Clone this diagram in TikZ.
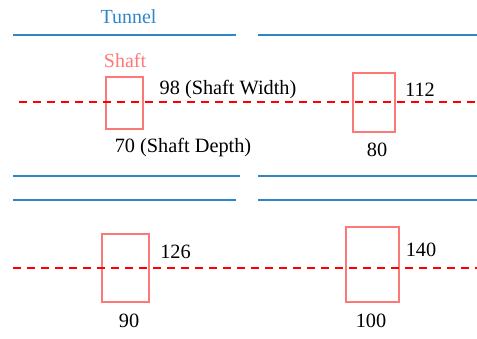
\documentclass[tikz,border=0pt]{standalone}
\usepackage{fontspec}
\setmainfont{Liberation Serif}
\definecolor{tunnelblue}{RGB}{46,134,200}
\definecolor{shaftpink}{RGB}{255,120,120}
\definecolor{axisred}{RGB}{255,0,0}
\tikzset{
  tunnelline/.style={draw=tunnelblue, line width=1.7pt},
  axisline/.style={draw=axisred, line width=2.2pt, dash pattern=on 8pt off 6pt},
  shaftbox/.style={draw=shaftpink, line width=1.7pt, inner sep=0pt, minimum width=#1},
  lbl/.style={anchor=base, inner sep=0pt, font=\fontsize{20.3pt}{22pt}\selectfont, text=black},
  clbl/.style={anchor=base, inner sep=0pt, font=\fontsize{20pt}{22pt}\selectfont}
}
\begin{document}
\begin{tikzpicture}[x=1pt,y=-1pt]
\useasboundingbox (0,0) rectangle (477,339);
% tunnel lines
\draw[tunnelline] (13,35) -- (236,35);
\draw[tunnelline] (258,35) -- (477,35);
\draw[tunnelline] (13,176) -- (240,176);
\draw[tunnelline] (13,200) -- (236,200);
\draw[tunnelline] (258,176) -- (477,176);
\draw[tunnelline] (258,200) -- (477,200);
% shafts
\node[shaftbox=37pt, minimum height=52pt] (s1) at (124.5,103) {};
\node[shaftbox=42pt, minimum height=59pt] (s2) at (374,102.5) {};
\node[shaftbox=47pt, minimum height=68pt] (s3) at (125.5,268) {};
\node[shaftbox=53pt, minimum height=75pt] (s4) at (372.5,264.5) {};
% axes
\draw[axisline] (19,102) -- (477,102);
\draw[axisline] (13,268) -- (477,268);
% labels
\node[clbl, text=tunnelblue] (tun) at (128.5,24) {Tunnel};
\node[clbl, text=shaftpink] (sh) at (125,68) {Shaft};
\node[lbl] (w1) at (228,95) {98 (Shaft Width)};
\node[lbl] (d1) at (183,153) {70 (Shaft Depth)};
\node[lbl] (w2) at (420,97) {112};
\node[lbl] (d2) at (377,157) {80};
\node[lbl] (w3) at (175.5,259) {126};
\node[lbl] (d3) at (129,328) {90};
\node[lbl] (w4) at (421,257) {140};
\node[lbl] (d4) at (371,327) {100};
\end{tikzpicture}
\end{document}
